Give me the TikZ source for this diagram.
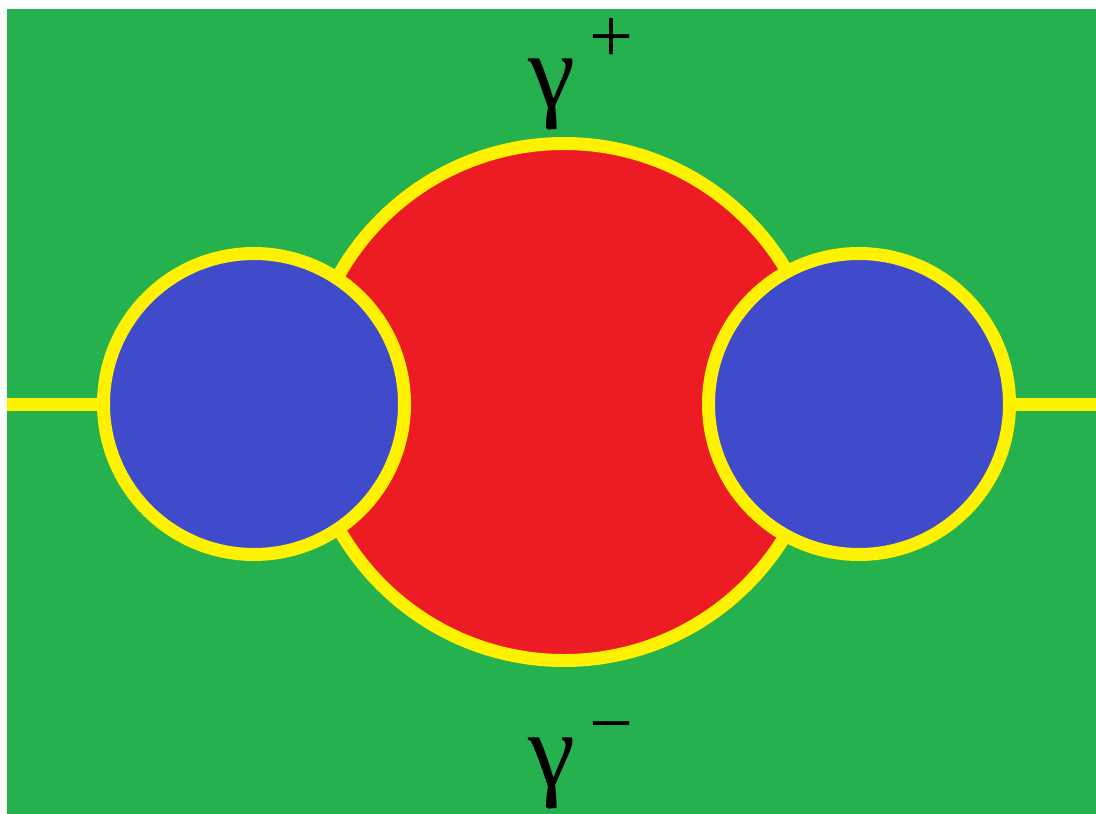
\documentclass[tikz,border=0pt]{standalone}
\usepackage{fontspec}
\setmainfont{Liberation Serif}
\definecolor{bggreen}{RGB}{37,177,78}
\definecolor{rimyellow}{RGB}{255,242,0}
\definecolor{bigred}{RGB}{237,28,36}
\definecolor{smallblue}{RGB}{63,75,203}
\begin{document}
\begin{tikzpicture}[x=1pt,y=-1pt,
  rim/.style={draw=rimyellow,line width=13pt},
  lbl/.style={inner sep=0pt,font=\fontsize{106}{106}\selectfont},
  sup/.style={inner sep=0pt,font=\fontsize{78}{78}\selectfont}]
\useasboundingbox (0,0) rectangle (1096,814);
\fill[white] (0,0) rectangle (1096,814);
\fill[bggreen] (7,9) rectangle (1096,814);
\coordinate (lend) at (7,404);
\coordinate (rend) at (1096,404);
\node[circle,minimum size=258.5pt*2,inner sep=0pt,fill=bigred,rim] (big) at (564,402) {};
\node[circle,minimum size=301pt,inner sep=0pt] (lc) at (254,404) {};
\node[circle,minimum size=301pt,inner sep=0pt] (rc) at (859,404) {};
\draw[rimyellow,line width=13pt] (lend) -- (lc.west);
\draw[rimyellow,line width=13pt] (rc.east) -- (rend);
\fill[smallblue] (lc.center) circle (150.5);
\draw[rim] (lc.center) circle (150.5);
\fill[smallblue] (rc.center) circle (150.5);
\draw[rim] (rc.center) circle (150.5);
\node[lbl] (gp) at (552,94) {γ};
\node[sup] (plus) at (611,40) {+};
\node[lbl] (gm) at (552,773) {γ};
\node[sup] (minus) at (611,736) {−};
\end{tikzpicture}
\end{document}
